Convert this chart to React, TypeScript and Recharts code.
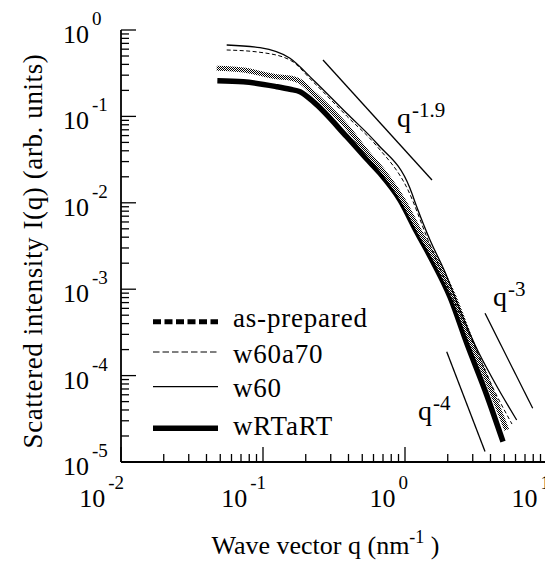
import React from 'react';
import { LineChart, Line, XAxis, YAxis, ReferenceLine, ReferenceDot, Legend } from 'recharts';

const FONT = "'Liberation Serif', 'Times New Roman', Times, serif";
const TXT = { fontFamily: FONT };

// ---- data ----
const wRTaRT_q = [0.0477, 0.0727, 0.1249, 0.155, 0.1823, 0.226, 0.3885, 0.5375, 0.6667, 0.9221, 1.209, 1.575, 2.075, 2.72, 3.762, 4.898];
const wRTaRT_I = [0.259, 0.252, 0.2207, 0.206, 0.1931, 0.148, 0.0582, 0.03213, 0.02195, 0.01077, 0.00459, 0.002065, 8.12e-4, 2.38e-4, 5.96e-5, 1.72e-5];

const asPrep_q = [0.0472, 0.0727, 0.1249, 0.155, 0.1823, 0.226, 0.3885, 0.5375, 0.7, 0.968, 1.275, 1.68, 2.214, 2.916, 3.968, 5.203];
const asPrep_I = [0.3603, 0.3444, 0.288, 0.278, 0.2538, 0.1851, 0.076, 0.0387, 0.02334, 0.01077, 0.00459, 0.002065, 8.12e-4, 2.51e-4, 7.38e-5, 2.35e-5];

const w60_q = [0.0555, 0.0953, 0.1549, 0.226, 0.3885, 0.632, 1.084, 1.209, 1.5, 1.912, 2.439, 3.112, 4.303, 6.117];
const w60_I = [0.6706, 0.6237, 0.4705, 0.2638, 0.1086, 0.04884, 0.01472, 0.00901, 0.00371, 0.00158, 5.74e-4, 2.26e-4, 8.21e-5, 3.06e-5];

const w60a70_q = [0.0555, 0.0953, 0.1549, 0.226, 0.3885, 0.632, 1.05, 1.452, 2.362, 3.062, 4.1, 5.668];
const w60a70_I = [0.5869, 0.552, 0.4496, 0.2501, 0.1011, 0.04544, 0.01406, 0.00371, 5.74e-4, 2.26e-4, 7.58e-5, 2.75e-5];

// power-law guide lines
const slopeQ1 = [0.2646, 3.66, 1.967];
const slopeI1 = [0.45, 5.26e-4, 1.89e-4];
const slopeQ2 = [1.549, 7.93, 3.66];
const slopeI2 = [0.01836, 4.18e-5, 1.32e-5];

// annotations
const annQ = [0.878, 4.166, 1.234];
const annI = [0.0754, 6.39e-4, 3.06e-5];
const annExp = ['-1.9', '-3', '-4'];

// ticks
const xDecades = [0.01, 0.1, 1, 10];
const yDecades = [1e-5, 1e-4, 1e-3, 1e-2, 1e-1, 1];
const minorMult = [1, 2, 3, 4, 5, 6, 7, 8, 9];

const buildTicks = (dec: number[]) => {
  const out: number[] = [];
  dec.forEach((d, i) => {
    if (i === dec.length - 1) out.push(d);
    else minorMult.forEach((m) => out.push(+(d * m).toPrecision(6)));
  });
  return out;
};
const xTicks = buildTicks(xDecades);
const yTicks = buildTicks(yDecades);

const zip = (q: number[], I: number[]) => q.map((v, i) => ({ q: v, I: I[i] }));

const legendNames = ['as-prepared', 'w60a70', 'w60', 'wRTaRT'];

const isMajor = (v: number) => Math.abs(Math.log10(v) - Math.round(Math.log10(v))) < 1e-6;
const expOf = (v: number) => String(Math.round(Math.log10(v)));
const MAJOR = 15;
const MINOR = 8;
const TW = 1.3;

function BottomTick(props: any) {
  const { x, y, payload } = props;
  const v = payload.value;
  const major = isMajor(v);
  return (
    <g>
      <line x1={x} y1={y} x2={x} y2={y - (major ? MAJOR : MINOR)} stroke="#000" strokeWidth={TW} />
      {major && (
        <text x={x + 3} y={y + 45} textAnchor="end" style={TXT} fontSize={26} fill="#000">
          10
          <tspan dx={3} dy={-18} fontSize={19}>{expOf(v)}</tspan>
        </text>
      )}
    </g>
  );
}

function TopTick(props: any) {
  const { x, y, payload } = props;
  const major = isMajor(payload.value);
  return <line x1={x} y1={y} x2={x} y2={y + (major ? MAJOR : MINOR)} stroke="#000" strokeWidth={TW} />;
}

function LeftTick(props: any) {
  const { x, y, payload } = props;
  const v = payload.value;
  const major = isMajor(v);
  return (
    <g>
      <line x1={x} y1={y} x2={x + (major ? MAJOR : MINOR)} y2={y} stroke="#000" strokeWidth={TW} />
      {major && (
        <text x={x - 58} y={y + 13} textAnchor="start" style={TXT} fontSize={26} fill="#000">
          10
          <tspan dx={3} dy={-18} fontSize={19}>{expOf(v)}</tspan>
        </text>
      )}
    </g>
  );
}

function RightTick(props: any) {
  const { x, y, payload } = props;
  const major = isMajor(payload.value);
  return <line x1={x} y1={y} x2={x - (major ? MAJOR : MINOR)} y2={y} stroke="#000" strokeWidth={TW} />;
}

const XTitle = (props: any) => {
  const vb = props.viewBox;
  return (
    <text x={vb.x + vb.width / 2 - 8.5} y={vb.y + 92} textAnchor="middle" style={TXT} fontSize={26} fill="#000">
      Wave vector q (nm
      <tspan dy={-11} fontSize={18}>-1</tspan>
      <tspan dy={11}>{' )'}</tspan>
    </text>
  );
};

const YTitle = (props: any) => {
  const vb = props.viewBox;
  const cx = vb.x + 34;
  const cy = vb.y + vb.height / 2 + 5;
  return (
    <text
      x={cx}
      y={cy}
      transform={`rotate(-90, ${cx}, ${cy})`}
      textAnchor="middle"
      style={{ ...TXT, letterSpacing: 0.6 }}
      fontSize={27}
      fill="#000"
    >
      Scattered intensity I(q) (arb. units)
    </text>
  );
};

const makeAnn = (exp: string) => (props: any) => {
  const vb = props.viewBox || {};
  return (
    <text x={vb.x} y={vb.y} style={TXT} fontSize={28} fill="#000">
      q
      <tspan dx={1} dy={-10} fontSize={21}>{exp}</tspan>
    </text>
  );
};

const legendStyles = [
  { stroke: '#000', strokeWidth: 5, dash: '8 3.5', lineY: 13.7, textY: 19 },
  { stroke: '#000', strokeWidth: 1, dash: '6.5 3', lineY: 44, textY: 55 },
  { stroke: '#000', strokeWidth: 1.3, dash: undefined, lineY: 78.7, textY: 89 },
  { stroke: '#000', strokeWidth: 5.5, dash: undefined, lineY: 120.3, textY: 127 },
];

const LegendContent = () => (
  <svg width={240} height={145} style={{ display: 'block', overflow: 'visible' }}>
    {legendNames.map((name, i) => {
      const s = legendStyles[i];
      return (
        <g key={name}>
          <line
            x1={5}
            x2={70}
            y1={s.lineY}
            y2={s.lineY}
            stroke={s.stroke}
            strokeWidth={s.strokeWidth}
            strokeDasharray={s.dash}
          />
          <text x={85} y={s.textY} style={{ ...TXT, letterSpacing: 0.8 }} fontSize={27} fill="#000">
            {name}
          </text>
        </g>
      );
    })}
  </svg>
);

export default function App() {
  const axisLine = { stroke: '#000', strokeWidth: 1.8 };
  return (
    <div style={{ width: 545, height: 553, background: '#fff', fontFamily: FONT }}>
      <LineChart width={545} height={553} margin={{ top: 22, right: 6, bottom: 0, left: 0 }}>
        <defs>
          <pattern id="checker" width={2} height={2} patternUnits="userSpaceOnUse">
            <rect x={0} y={0} width={2} height={2} fill="#fff" />
            <rect x={0} y={0} width={1} height={1} fill="#000" />
            <rect x={1} y={1} width={1} height={1} fill="#000" />
          </pattern>
        </defs>
        <XAxis
          xAxisId="b"
          dataKey="q"
          type="number"
          scale="log"
          domain={[0.01, 10]}
          allowDataOverflow
          ticks={xTicks}
          interval={0}
          height={99}
          axisLine={axisLine}
          tickLine={false}
          tickSize={0}
          tickMargin={0}
          tick={<BottomTick />}
          label={<XTitle />}
        />
        <XAxis
          xAxisId="t"
          orientation="top"
          dataKey="q"
          type="number"
          scale="log"
          domain={[0.01, 10]}
          allowDataOverflow
          ticks={xTicks}
          interval={0}
          height={0}
          axisLine={axisLine}
          tickLine={false}
          tickSize={0}
          tickMargin={0}
          tick={<TopTick />}
        />
        <YAxis
          yAxisId="l"
          dataKey="I"
          type="number"
          scale="log"
          domain={[1e-5, 1]}
          allowDataOverflow
          ticks={yTicks}
          interval={0}
          width={113}
          axisLine={axisLine}
          tickLine={false}
          tickSize={0}
          tickMargin={0}
          tick={<LeftTick />}
          label={<YTitle />}
        />
        <YAxis
          yAxisId="r"
          orientation="right"
          dataKey="I"
          type="number"
          scale="log"
          domain={[1e-5, 1]}
          allowDataOverflow
          ticks={yTicks}
          interval={0}
          width={0}
          axisLine={axisLine}
          tickLine={false}
          tickSize={0}
          tickMargin={0}
          tick={<RightTick />}
        />

        {slopeQ1.map((q1, i) => (
          <ReferenceLine
            key={'s' + i}
            xAxisId="b"
            yAxisId="l"
            ifOverflow="visible"
            segment={[
              { x: q1, y: slopeI1[i] },
              { x: slopeQ2[i], y: slopeI2[i] },
            ]}
            stroke="#000"
            strokeWidth={1.3}
          />
        ))}

        <Line
          xAxisId="b"
          yAxisId="l"
          data={zip(wRTaRT_q, wRTaRT_I)}
          dataKey="I"
          type="monotone"
          stroke="#000"
          strokeWidth={5.5}
          dot={false}
          isAnimationActive={false}
          name="wRTaRT"
        />
        <Line
          xAxisId="b"
          yAxisId="l"
          data={zip(asPrep_q, asPrep_I)}
          dataKey="I"
          type="monotone"
          stroke="url(#checker)"
          strokeWidth={5}
          dot={false}
          isAnimationActive={false}
          name="as-prepared"
        />
        <Line
          xAxisId="b"
          yAxisId="l"
          data={zip(w60a70_q, w60a70_I)}
          dataKey="I"
          type="monotone"
          stroke="#000"
          strokeWidth={1}
          strokeDasharray="4 2.5"
          dot={false}
          isAnimationActive={false}
          name="w60a70"
        />
        <Line
          xAxisId="b"
          yAxisId="l"
          data={zip(w60_q, w60_I)}
          dataKey="I"
          type="monotone"
          stroke="#000"
          strokeWidth={1.3}
          dot={false}
          isAnimationActive={false}
          name="w60"
        />

        {annQ.map((q, i) => (
          <ReferenceDot
            key={'a' + i}
            xAxisId="b"
            yAxisId="l"
            x={q}
            y={annI[i]}
            r={0}
            fill="none"
            stroke="none"
            ifOverflow="visible"
            label={makeAnn(annExp[i])}
          />
        ))}

        <Legend
          layout="vertical"
          align="center"
          verticalAlign="middle"
          wrapperStyle={{ left: 140, top: 300, width: 240, height: 145 }}
          content={<LegendContent />}
        />
      </LineChart>
    </div>
  );
}
